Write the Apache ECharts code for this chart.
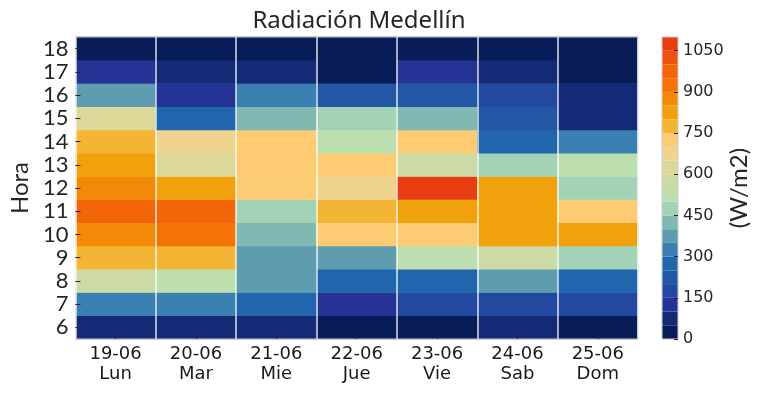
<!DOCTYPE html>
<html><head><meta charset="utf-8">
<script src="https://cdn.jsdelivr.net/npm/echarts@6/dist/echarts.min.js"></script>
<style>html,body{margin:0;padding:0;background:#fff}#c{width:764px;height:395px}</style>
</head><body><div id="c"></div>
<script>
const days = ['19-06\nLun','20-06\nMar','21-06\nMie','22-06\nJue','23-06\nVie','24-06\nSab','25-06\nDom'];
const hours = ['6','7','8','9','10','11','12','13','14','15','16','17','18'];
// W/m2 per hour 6..18
const lun = [75,325,575,775,875,975,875,825,775,625,375,125,25];
const mar = [75,325,525,775,925,975,825,625,675,275,125,75,25];
const mie = [75,275,375,375,425,475,725,725,725,425,325,75,25];
const jue = [25,125,275,375,725,775,675,725,525,475,225,25,25];
const vie = [25,175,275,525,725,825,1075,575,725,425,225,125,25];
const sab = [75,175,375,575,825,825,825,475,275,225,175,75,25];
const dom = [25,175,275,475,825,725,475,525,325,75,75,25,25];
const cbTicks = [0,150,300,450,600,750,900,1050];
const step = 50;
const palette = ['#081d58','#142a77','#253494','#2248a0','#2257a6','#2166ac','#3a80b0','#5e9db0','#80b8b2','#a2d3b7','#bddfb0','#ccdba5','#dcd899','#efd48f','#fccb72','#f4b536','#f0a10b','#f38a07','#f57306','#f26509','#ed5210','#e83c12'];

const cols = [lun,mar,mie,jue,vie,sab,dom];
const data = [];
cols.forEach((col,i)=>col.forEach((v,j)=>data.push([i,j,v])));
const pieces = palette.map((c,i)=>({min:i*step,max:(i+1)*step,color:c}));
const cbSeries = palette.map(c=>({type:'bar',xAxisIndex:1,yAxisIndex:1,stack:'cb',data:[step],barWidth:'100%',itemStyle:{color:c},silent:true}));

const chart = echarts.init(document.getElementById('c'));
chart.setOption({
  animation:false,
  textStyle:{fontFamily:'Lato',color:'#262626'},
  title:{text:'Radiación Medellín',left:354,textAlign:'center',top:4,textStyle:{fontFamily:'Noto Sans',fontSize:24,fontWeight:'normal',color:'#262626'}},
  grid:[{left:70,right:126,top:37,bottom:56,show:true,borderColor:'#cccccc',borderWidth:1,z:5},
        {left:662,width:16,top:37,bottom:56,show:true,borderColor:'#cccccc',borderWidth:1,z:5}],
  visualMap:{type:'piecewise',show:false,seriesIndex:0,pieces:pieces},
  xAxis:[{type:'category',data:days,gridIndex:0,z:10,
          axisLine:{show:false},
          axisTick:{show:true,inside:true,alignWithLabel:true,interval:0,length:5,lineStyle:{color:'#262626'}},
          splitLine:{show:true,interval:0,lineStyle:{color:'rgba(255,255,255,0.85)',width:1.5}},
          axisLabel:{fontFamily:'DejaVu Sans',fontSize:18,color:'#1a1a1a',lineHeight:20,margin:5,interval:0}},
         {type:'category',data:[''],gridIndex:1,show:false}],
  yAxis:[{type:'category',data:hours,gridIndex:0,z:10,
          name:'Hora',nameLocation:'middle',nameGap:40,nameRotate:90,
          nameTextStyle:{fontFamily:'Lato',fontSize:24,color:'#262626'},
          axisLine:{show:false},
          axisTick:{show:true,inside:true,alignWithLabel:true,interval:0,length:5,lineStyle:{color:'#262626'}},
          splitLine:{show:false},
          axisLabel:{fontFamily:'Lato',fontSize:22,color:'#262626',margin:7,interval:0}},
         {type:'value',gridIndex:1,position:'right',min:0,max:1100,interval:150,z:10,
          name:'(W/m2)',nameLocation:'middle',nameGap:48,nameRotate:90,
          nameTextStyle:{fontFamily:'Lato',fontSize:24,color:'#262626'},
          axisLine:{show:false},
          axisTick:{show:true,inside:true,length:4,lineStyle:{color:'#262626'}},
          splitLine:{show:false},
          axisLabel:{fontFamily:'DejaVu Sans',fontSize:16,color:'#262626',margin:5,showMaxLabel:false,
            formatter:v=>cbTicks.includes(v)?String(v):''}}],
  series:[{type:'heatmap',xAxisIndex:0,yAxisIndex:0,data:data,itemStyle:{borderWidth:0},emphasis:{disabled:true}}].concat(cbSeries)
});
</script></body></html>
